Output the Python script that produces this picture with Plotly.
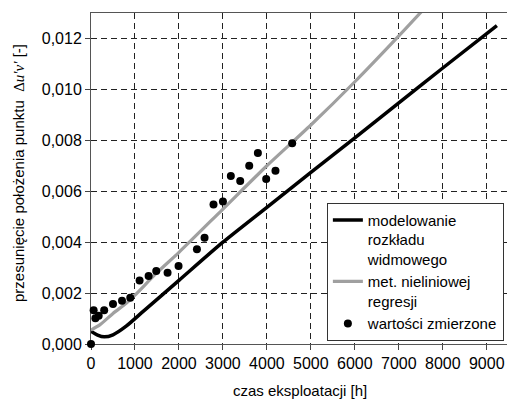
import plotly.graph_objects as go

# Modelowanie rozkładu widmowego (black)
model_h = [0, 150, 300, 500, 800, 1200, 2000, 3000, 4000, 5000, 6000, 7000, 8000, 9230]
model_v = [0.0005, 0.00035, 0.00028, 0.00036, 0.0007, 0.0013, 0.0025, 0.004,
           0.00537, 0.00674, 0.0081, 0.00947, 0.01084, 0.0125]

# Met. nieliniowej regresji (grey)
regr_h = [0, 200, 500, 800, 1000, 1500, 2000, 3000, 4000, 5000, 6000, 7000, 7700]
regr_v = [0.00055, 0.00075, 0.0012, 0.0016, 0.00192, 0.0028, 0.0036, 0.0053, 0.007, 0.0086, 0.0103, 0.0121, 0.0134]

# Wartości zmierzone (dots)
meas_h = [0, 60, 100, 175, 300, 500, 705, 893, 1105, 1310, 1484, 1741, 1991, 2409, 2582,
          2786, 3000, 3180, 3393, 3598, 3795, 3984, 4195, 4575]
meas_v = [0.0, 0.00133, 0.00101, 0.00111, 0.00133, 0.00157, 0.0017, 0.00182, 0.00249, 0.00267,
          0.00287, 0.0028, 0.00306, 0.00372, 0.00417, 0.00548, 0.0056, 0.0066, 0.0064, 0.0070,
          0.0075, 0.00648, 0.0068, 0.00788]

x_title = "czas eksploatacji [h]"
y_title = "przesunięcie położenia punktu  <span style=\"font-family:'Liberation Serif'\">Δ<i>u′v′</i></span> [-]"

FONT = "Liberation Sans, Arial, sans-serif"

fig = go.Figure()
fig.add_trace(go.Scatter(x=model_h, y=model_v, mode="lines",
                         line=dict(color="black", width=3.5, shape="spline", smoothing=0.7),
                         name="modelowanie<br>rozkładu<br>widmowego"))
fig.add_trace(go.Scatter(x=regr_h, y=regr_v, mode="lines",
                         line=dict(color="#a0a0a0", width=3.2, shape="spline", smoothing=0.7),
                         name="met. nieliniowej<br>regresji"))
fig.add_trace(go.Scatter(x=meas_h, y=meas_v, mode="markers", marker=dict(color="black", size=8),
                         name="wartości zmierzone", cliponaxis=False))

grid = dict(showgrid=True, gridcolor="#222222", griddash="6px,4px", gridwidth=1)

fig.update_layout(
    width=507, height=401,
    margin=dict(l=91, r=0, t=13, b=57),
    paper_bgcolor="white", plot_bgcolor="white",
    font=dict(family=FONT, size=15, color="black"),
    separators=", ",
    showlegend=True,
    legend=dict(x=0.567, y=0.427, xanchor="left", yanchor="top", bgcolor="white",
                bordercolor="#333333", borderwidth=1, valign="top",
                font=dict(size=15), tracegroupgap=0, itemwidth=30),
    xaxis=dict(range=[0, 9460], tickvals=[0, 1000, 2000, 3000, 4000, 5000, 6000, 7000, 8000, 9000],
               ticks="outside", ticklen=5, tickcolor="#444444", showline=True, linecolor="#555555",
               linewidth=1, mirror=True, zeroline=False, tickfont=dict(size=16),
               layer="below traces", **grid),
    yaxis=dict(range=[0, 0.013], tickvals=[0, 0.002, 0.004, 0.006, 0.008, 0.010, 0.012],
               tickformat=".3f", ticks="outside", ticklen=5, tickcolor="#444444", showline=True,
               linecolor="#555555", linewidth=1, zeroline=False, tickfont=dict(size=16),
               layer="below traces", **grid),
    annotations=[
        dict(text=x_title, xref="paper", yref="paper", x=0.502, y=-0.139, xanchor="center",
             yanchor="middle", showarrow=False, font=dict(size=15)),
        dict(text=y_title, xref="paper", yref="paper", x=-0.1755, y=0.5166, xanchor="center",
             yanchor="middle", textangle=-90, showarrow=False, font=dict(size=15)),
    ],
)

fig.write_html("out.html")
